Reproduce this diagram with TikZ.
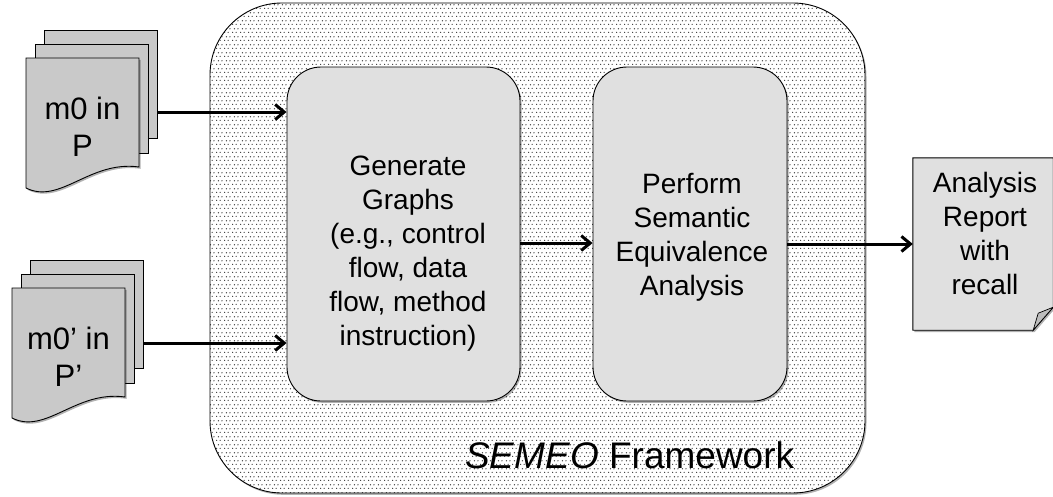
\documentclass[tikz,border=0pt]{standalone}
\usepackage{fontspec}
\setmainfont{Liberation Sans}
\usetikzlibrary{arrows.meta,shadows,patterns.meta}
\definecolor{docgray}{HTML}{C9C9C9}
\definecolor{boxgray}{HTML}{E0E0E0}
\definecolor{foldgray}{HTML}{BDBDBD}
\tikzdeclarepattern{name=semdots, type=uncolored,
  tile size={(8pt,8pt)}, bottom left={(0pt,0pt)}, top right={(8pt,8pt)},
  code={
    \fill (0.7pt,0.7pt) circle (0.75pt);
    \fill (4.7pt,0.7pt) circle (0.75pt);
    \fill (2.7pt,4.7pt) circle (0.75pt);
    \fill (6.7pt,4.7pt) circle (0.75pt);
  }}
\tikzset{
  shad/.style={drop shadow={shadow xshift=1.5pt, shadow yshift=-1.8pt, opacity=0.3, fill=black}},
  framebox/.style={rounded corners=72pt, draw=black, line width=0.9pt, shad,
    preaction={fill=white}, pattern=semdots, pattern color=black!80,
    minimum width=655pt, minimum height=490pt, inner sep=0pt},
  stepbox/.style={rounded corners=34pt, draw=black, line width=0.9pt, fill=boxgray, shad,
    minimum height=334pt, inner sep=0pt},
  sheet/.style={draw=black, line width=0.9pt, fill=docgray},
  bodytext/.style={align=center, inner sep=0pt, font=\fontsize{28}{34}\selectfont},
  doctext/.style={align=center, inner sep=0pt, font=\fontsize{31}{37}\selectfont},
  arr/.style={line width=3pt, -{Straight Barb[length=9pt,width=15pt,line width=3pt]}},
}
\begin{document}
\begin{tikzpicture}[x=1pt,y=-1pt]
\useasboundingbox (0,0) rectangle (1053,496);

% framework
\node[framebox] (frame) at (537.5,248) {};
\node[stepbox, minimum width=233pt] (gen) at (403.5,234) {};
\node[stepbox, minimum width=194pt] (perf) at (690,234) {};
\node[bodytext] (gentext) at (408,254) {Generate\\Graphs\\(e.g., control\\flow, data\\flow, method\\instruction)};
\node[bodytext] (perftext) at (692,237) {Perform\\Semantic\\Equivalence\\Analysis};
\node[anchor=base west, inner sep=0pt, font=\fontsize{37}{44}\selectfont] (lbl) at (465,468) {\textit{SEMEO} Framework};

% input document stack 1
\filldraw[sheet] (44,30) rectangle (157,138);
\filldraw[sheet] (35,44) rectangle (148,153);
\filldraw[sheet, shad] (26,58) -- (139,58) -- (139,167) .. controls (90,160) and (60,205) .. (26,188) -- cycle;
\node[doctext] (doc1) at (82.5,126.5) {m0 in\\P};
\coordinate (s1) at (157,112);

% input document stack 2
\begin{scope}[shift={(-14,230)}]
\filldraw[sheet] (44,30) rectangle (157,138);
\filldraw[sheet] (35,44) rectangle (148,153);
\filldraw[sheet, shad] (26,58) -- (139,58) -- (139,167) .. controls (90,160) and (60,205) .. (26,188) -- cycle;
\end{scope}
\node[doctext] (doc2) at (68.5,356.5) {m0’ in\\P’};
\coordinate (s2) at (143,343);

% report
\node[minimum width=140pt, minimum height=172pt, inner sep=0pt] (report) at (983,244) {};
\filldraw[draw=black, line width=0.9pt, fill=boxgray, shad]
  (report.north west) -- (report.north east) -- ([yshift=23pt]report.south east)
  -- ([xshift=-20pt]report.south east) -- (report.south west) -- cycle;
\filldraw[draw=black, line width=0.7pt, fill=foldgray]
  ([xshift=-20pt]report.south east) -- ([xshift=-15pt,yshift=17pt]report.south east)
  -- ([yshift=23pt]report.south east) -- cycle;
\node[bodytext] (reptext) at (985,233.5) {Analysis\\Report\\with\\recall};

% connectors
\draw[arr] (s1) -- (s1 -| gen.west);
\draw[arr] (s2) -- (s2 -| gen.west);
\draw[arr] ([yshift=-9pt]gen.east) -- ([yshift=-9pt]perf.west);
\draw[arr] (perf.east |- report.west) -- (report.west);
\end{tikzpicture}
\end{document}
